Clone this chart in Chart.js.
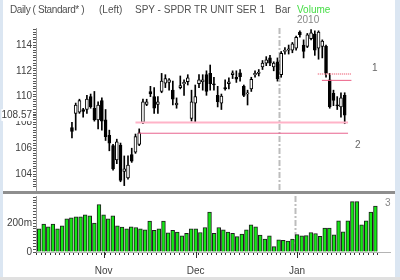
<!DOCTYPE html>
<html>
<head>
<meta charset="utf-8">
<script src="https://cdn.jsdelivr.net/npm/chart.js@4.4.1/dist/chart.umd.min.js"></script>
<style>
  body { margin: 0; width: 400px; height: 280px; overflow: hidden; background: #fff; position: relative;
         font-family: "Liberation Sans", Arial, sans-serif; }
  .txt { position: absolute; font-size: 10px; line-height: 10px; color: #505050; white-space: nowrap; }
  #frameL { position: absolute; left: 0; top: 0; width: 3px; height: 280px; background: #dbe6f2; }
  #frameR { position: absolute; left: 395px; top: 0; width: 5px; height: 280px; background: #dbe6f2; }
  #frameB { position: absolute; left: 0; top: 277px; width: 400px; height: 3px; background: #e0e0e0; }
  #divider { position: absolute; left: 3px; top: 191px; width: 392px; height: 3px; background: #8e8e8e; }
  #cPrice { position: absolute; left: 0; top: 0; }
  #cVol { position: absolute; left: 0; top: 194px; }
</style>
</head>
<body>
<div id="frameL"></div>
<div id="frameR"></div>
<div id="frameB"></div>
<canvas id="cPrice" width="395" height="191"></canvas>
<canvas id="cVol" width="395" height="86"></canvas>
<div id="divider"></div>

<span class="txt" style="left:10px;top:5px;letter-spacing:-0.4px">Daily ( Standard* )</span>
<span class="txt" style="left:99px;top:5px">(Left)</span>
<span class="txt" style="left:135px;top:5px">SPY - SPDR TR UNIT SER 1</span>
<span class="txt" style="left:275px;top:5px">Bar</span>
<span class="txt" style="left:297px;top:5px;color:#44dd44">Volume</span>
<span class="txt" style="left:297px;top:15px;color:#888">2010</span>
<span class="txt" style="left:372px;top:63px;color:#666">1</span>
<span class="txt" style="left:355px;top:140px;color:#666">2</span>
<span class="txt" style="left:385px;top:198px;color:#888">3</span>

<script>
// SPY daily bars, mid Oct 2009 - end Jan 2010
const dates = [
  '2009-10-13','2009-10-14','2009-10-15','2009-10-16','2009-10-19','2009-10-20','2009-10-21',
  '2009-10-22','2009-10-23','2009-10-26','2009-10-27','2009-10-28','2009-10-29','2009-10-30',
  '2009-11-02','2009-11-03','2009-11-04','2009-11-05','2009-11-06','2009-11-09','2009-11-10',
  '2009-11-11','2009-11-12','2009-11-13','2009-11-16','2009-11-17','2009-11-18','2009-11-19',
  '2009-11-20','2009-11-23','2009-11-24','2009-11-25','2009-11-27','2009-11-30',
  '2009-12-01','2009-12-02','2009-12-03','2009-12-04','2009-12-07','2009-12-08','2009-12-09',
  '2009-12-10','2009-12-11','2009-12-14','2009-12-15','2009-12-16','2009-12-17','2009-12-18',
  '2009-12-21','2009-12-22','2009-12-23','2009-12-24','2009-12-28','2009-12-29','2009-12-30',
  '2009-12-31',
  '2010-01-04','2010-01-05','2010-01-06','2010-01-07','2010-01-08','2010-01-11','2010-01-12',
  '2010-01-13','2010-01-14','2010-01-15','2010-01-19','2010-01-20','2010-01-21','2010-01-22',
  '2010-01-25','2010-01-26','2010-01-27','2010-01-28'
];
const opens = [
  107.6, 108.7, 108.8, 109.0, 109.0, 110.0, 109.1, 108.2, 109.7, 108.2, 107.0, 106.2, 105.1, 106.25,
  104.2, 103.7, 105.5, 105.7, 106.3, 108.0, 109.4, 110.4, 110.0, 109.4, 110.4, 111.05, 111.1, 110.5,
  109.35, 110.7, 111.0, 111.15, 108.3, 109.5,
  111.0, 111.15, 111.7, 111.8, 111.0, 110.1, 109.5, 110.7, 111.0, 111.7, 111.5, 111.85, 110.8, 110.2,
  110.6, 111.7, 111.8, 112.3, 112.6, 113.0, 112.3, 112.7,
  111.7, 113.5, 113.6, 113.6, 113.75, 115.0, 114.0, 113.9, 114.5, 114.85, 113.75, 113.9, 113.9, 111.3,
  110.25, 109.35, 109.2, 110.1
];
const highs = [
  108.0, 109.5, 109.8, 109.1, 110.1, 110.2, 110.4, 109.6, 109.9, 109.0, 107.4, 106.3, 106.7, 106.4,
  105.4, 105.4, 106.0, 107.1, 107.5, 109.8, 109.8, 110.8, 110.7, 110.0, 111.8, 111.7, 111.4, 111.2,
  109.9, 111.6, 111.3, 111.7, 110.5, 110.9,
  111.7, 111.7, 112.0, 112.45, 111.5, 110.8, 110.2, 111.3, 111.45, 112.0, 112.0, 112.1, 110.9, 110.5,
  111.5, 112.0, 112.1, 112.8, 113.1, 113.2, 112.7, 113.0,
  113.5, 113.8, 114.0, 114.2, 114.7, 115.1, 114.4, 114.9, 115.2, 115.1, 115.1, 114.4, 114.0, 111.8,
  110.5, 110.0, 110.3, 110.3
];
const lows = [
  106.8, 107.4, 108.7, 108.4, 108.7, 109.1, 108.1, 107.5, 107.4, 106.6, 105.8, 104.3, 104.8, 103.4,
  103.1, 103.6, 104.9, 105.6, 106.2, 107.9, 109.3, 110.0, 108.7, 108.7, 110.3, 110.7, 110.5, 109.35,
  109.1, 110.6, 110.1, 110.9, 108.1, 108.05,
  110.7, 110.5, 110.1, 110.5, 110.5, 109.2, 109.0, 110.5, 110.6, 111.4, 111.1, 111.2, 110.0, 109.35,
  110.4, 111.5, 111.6, 112.1, 112.4, 112.4, 112.0, 111.2,
  111.5, 113.3, 113.3, 113.4, 113.6, 114.6, 113.0, 113.8, 114.4, 113.2, 112.9, 113.0, 111.5, 109.1,
  109.3, 109.0, 108.4, 107.9
];
const closes = [
  107.3, 109.35, 109.7, 108.85, 109.8, 109.2, 108.2, 109.35, 108.1, 106.9, 106.4, 104.4, 106.5, 103.5,
  104.4, 104.7, 105.0, 106.9, 107.2, 109.6, 109.6, 110.2, 109.1, 109.6, 111.2, 111.4, 111.3, 109.8,
  109.5, 110.85, 111.1, 111.45, 109.6, 110.0,
  111.3, 111.3, 110.4, 111.0, 110.9, 109.6, 110.05, 110.6, 111.15, 111.85, 111.35, 111.55, 110.1, 110.3,
  111.35, 111.8, 111.9, 112.6, 112.85, 112.6, 112.6, 111.4,
  113.35, 113.6, 113.7, 114.1, 114.6, 114.8, 113.5, 114.8, 114.95, 113.6, 115.0, 114.3, 111.8, 109.2,
  109.7, 109.3, 109.9, 108.57
];
// volume in millions of shares
const volumes = [
  161, 193, 175, 193, 161, 181, 230, 237, 244, 244, 258, 251, 200, 329,
  258, 230, 251, 181, 172, 161, 175, 170, 161, 154, 214, 151, 161, 214, 133, 151, 138, 112, 129, 161,
  161, 135, 170, 276, 129, 170, 154, 138, 129, 106, 124, 154, 188, 175, 117, 90, 112, 37, 85, 81, 76, 90,
  120, 112, 113, 135, 128, 108, 165, 165, 119, 216, 140, 216, 349, 349, 188, 216, 276, 319
];
const lastClose = 108.57;
const priceLabels = [104, 106, 108, 110, 112, 114];
const volumeLabels = [0, 200];
const monthNames = ['Jan','Feb','Mar','Apr','May','Jun','Jul','Aug','Sep','Oct','Nov','Dec'];

// drawn lines: 1 = resistance pair, 2 = support pair
const line1Levels = [111.75, 111.26];
const line1From = [65.8, 66.9];
const line2Levels = [108.0, 107.16];
const line2From = [17, 17.8];

const idx = dates.map((d, i) => i);
const monthStarts = idx.filter(i => i > 0 && dates[i].slice(5, 7) !== dates[i - 1].slice(5, 7));
const yearStart = idx.find(i => i > 0 && dates[i].slice(0, 4) !== dates[i - 1].slice(0, 4));

const X_MIN = -0.15, X_MAX = 75.65;
const tickFont = { family: '"Liberation Sans", Arial, sans-serif', size: 10 };

function noPad(scale, w) {
  scale.width = w;
  scale.paddingTop = 0;
  scale.paddingBottom = 0;
}

// dashed year separator + long month ticks
const marksPlugin = {
  id: 'marks',
  beforeDatasetsDraw(chart) {
    const ctx = chart.ctx, a = chart.chartArea;
    const x = Math.round(chart.scales.x.getPixelForValue(yearStart - 0.5)) + 0.5;
    ctx.save();
    ctx.strokeStyle = '#bdbdbd';
    ctx.lineWidth = 2;
    ctx.setLineDash([6, 2, 2, 2]);
    ctx.beginPath();
    ctx.moveTo(x, a.top);
    ctx.lineTo(x, a.bottom);
    ctx.stroke();
    ctx.restore();
  },
  afterDraw(chart) {
    if (chart.canvas.id !== 'cVol') return;
    const ctx = chart.ctx, a = chart.chartArea;
    ctx.save();
    ctx.strokeStyle = '#333';
    ctx.lineWidth = 1;
    monthStarts.forEach(i => {
      const x = Math.round(chart.scales.x.getPixelForValue(i)) + 0.5;
      ctx.beginPath();
      ctx.moveTo(x, a.bottom);
      ctx.lineTo(x, a.bottom + 6);
      ctx.stroke();
    });
    ctx.restore();
  }
};

function levelLine(level, from, to, color, width, dash) {
  return {
    type: 'line',
    data: [{ x: from, y: level }, { x: to, y: level }],
    borderColor: color,
    borderWidth: width,
    borderDash: dash || [],
    pointRadius: 0,
    order: 0
  };
}

// price panel
const bodies = idx.map(i => {
  let o = opens[i], c = closes[i];
  if (Math.abs(o - c) < 0.08) { const m = (o + c) / 2; o = m - 0.04; c = m + 0.04; }
  return { x: i, y: [o, c] };
});

new Chart(document.getElementById('cPrice'), {
  type: 'bar',
  data: {
    datasets: [
      {
        data: idx.map(i => ({ x: i, y: [lows[i], highs[i]] })),
        backgroundColor: '#000',
        barThickness: 1,
        grouped: false,
        order: 3
      },
      {
        data: bodies,
        backgroundColor: idx.map(i => closes[i] >= opens[i] ? '#fff' : '#000'),
        borderColor: '#000',
        borderWidth: 1,
        borderSkipped: false,
        barThickness: 3,
        grouped: false,
        order: 2
      },
      levelLine(line2Levels[0], line2From[0], 73.9, '#ffb3c8', 2),
      levelLine(line2Levels[1], line2From[1], 73.9, '#e8648f', 1),
      levelLine(line1Levels[0], line1From[0], 74.8, '#f49aa8', 2, [1, 1]),
      levelLine(line1Levels[1], line1From[1], 74.8, '#ec5f86', 1)
    ]
  },
  options: {
    responsive: false,
    animation: false,
    layout: { padding: { top: 28, right: 5, bottom: 1, left: 0 } },
    plugins: { legend: { display: false }, tooltip: { enabled: false } },
    scales: {
      x: { type: 'linear', min: X_MIN, max: X_MAX, display: false },
      y: {
        min: 102.76, max: 115.32,
        afterFit(scale) { noPad(scale, 36); },
        afterBuildTicks(scale) {
          const t = [];
          for (let v = 1030; v <= 1152; v += 2) t.push({ value: v / 10 });
          t.push({ value: lastClose });
          t.sort((a, b) => a.value - b.value);
          scale.ticks = t;
        },
        ticks: {
          autoSkip: false,
          padding: 1,
          color: '#404040',
          font: tickFont,
          showLabelBackdrop: ctx => ctx.tick && ctx.tick.value === lastClose,
          backdropColor: '#fff',
          backdropPadding: 0,
          callback(v) {
            if (v === lastClose) return lastClose.toFixed(2);
            const r = Math.round(v);
            return Math.abs(v - r) < 1e-6 && priceLabels.includes(r) ? String(r) : '';
          }
        },
        grid: { drawOnChartArea: false, tickLength: 3, color: '#555' },
        border: { color: '#9a9a9a' }
      }
    }
  },
  plugins: [marksPlugin]
});

// volume panel
new Chart(document.getElementById('cVol'), {
  type: 'bar',
  data: {
    datasets: [{
      data: idx.map(i => ({ x: i, y: volumes[i] })),
      backgroundColor: '#14e614',
      borderColor: '#1c1c1c',
      borderWidth: 1,
      borderSkipped: 'bottom',
      barThickness: 3.8
    }]
  },
  options: {
    responsive: false,
    animation: false,
    layout: { padding: { top: 2, right: 5, bottom: 0, left: 0 } },
    plugins: { legend: { display: false }, tooltip: { enabled: false } },
    scales: {
      x: {
        type: 'linear', min: X_MIN, max: X_MAX,
        afterFit(scale) { scale.height = 28; scale.paddingLeft = 0; scale.paddingRight = 0; },
        afterBuildTicks(scale) { scale.ticks = idx.map(i => ({ value: i })); },
        ticks: {
          autoSkip: false, maxRotation: 0, padding: 10,
          color: '#404040', font: tickFont,
          callback(v) { return monthStarts.includes(v) ? monthNames[+dates[v].slice(5, 7) - 1] : ''; }
        },
        grid: { drawOnChartArea: false, tickLength: 3, color: '#333' },
        border: { color: '#b4b4b4' }
      },
      y: {
        min: 0, max: 388,
        afterFit(scale) { noPad(scale, 36); },
        afterBuildTicks(scale) {
          const t = [];
          for (let v = 0; v <= 380; v += 20) t.push({ value: v });
          scale.ticks = t;
        },
        ticks: {
          autoSkip: false, padding: 1, color: '#404040', font: tickFont,
          callback(v) { return volumeLabels.includes(v) ? (v === 0 ? '0' : v + 'm') : ''; }
        },
        grid: { drawOnChartArea: false, tickLength: 3, color: '#555' },
        border: { color: '#9a9a9a' }
      }
    }
  },
  plugins: [marksPlugin]
});
</script>
</body>
</html>
